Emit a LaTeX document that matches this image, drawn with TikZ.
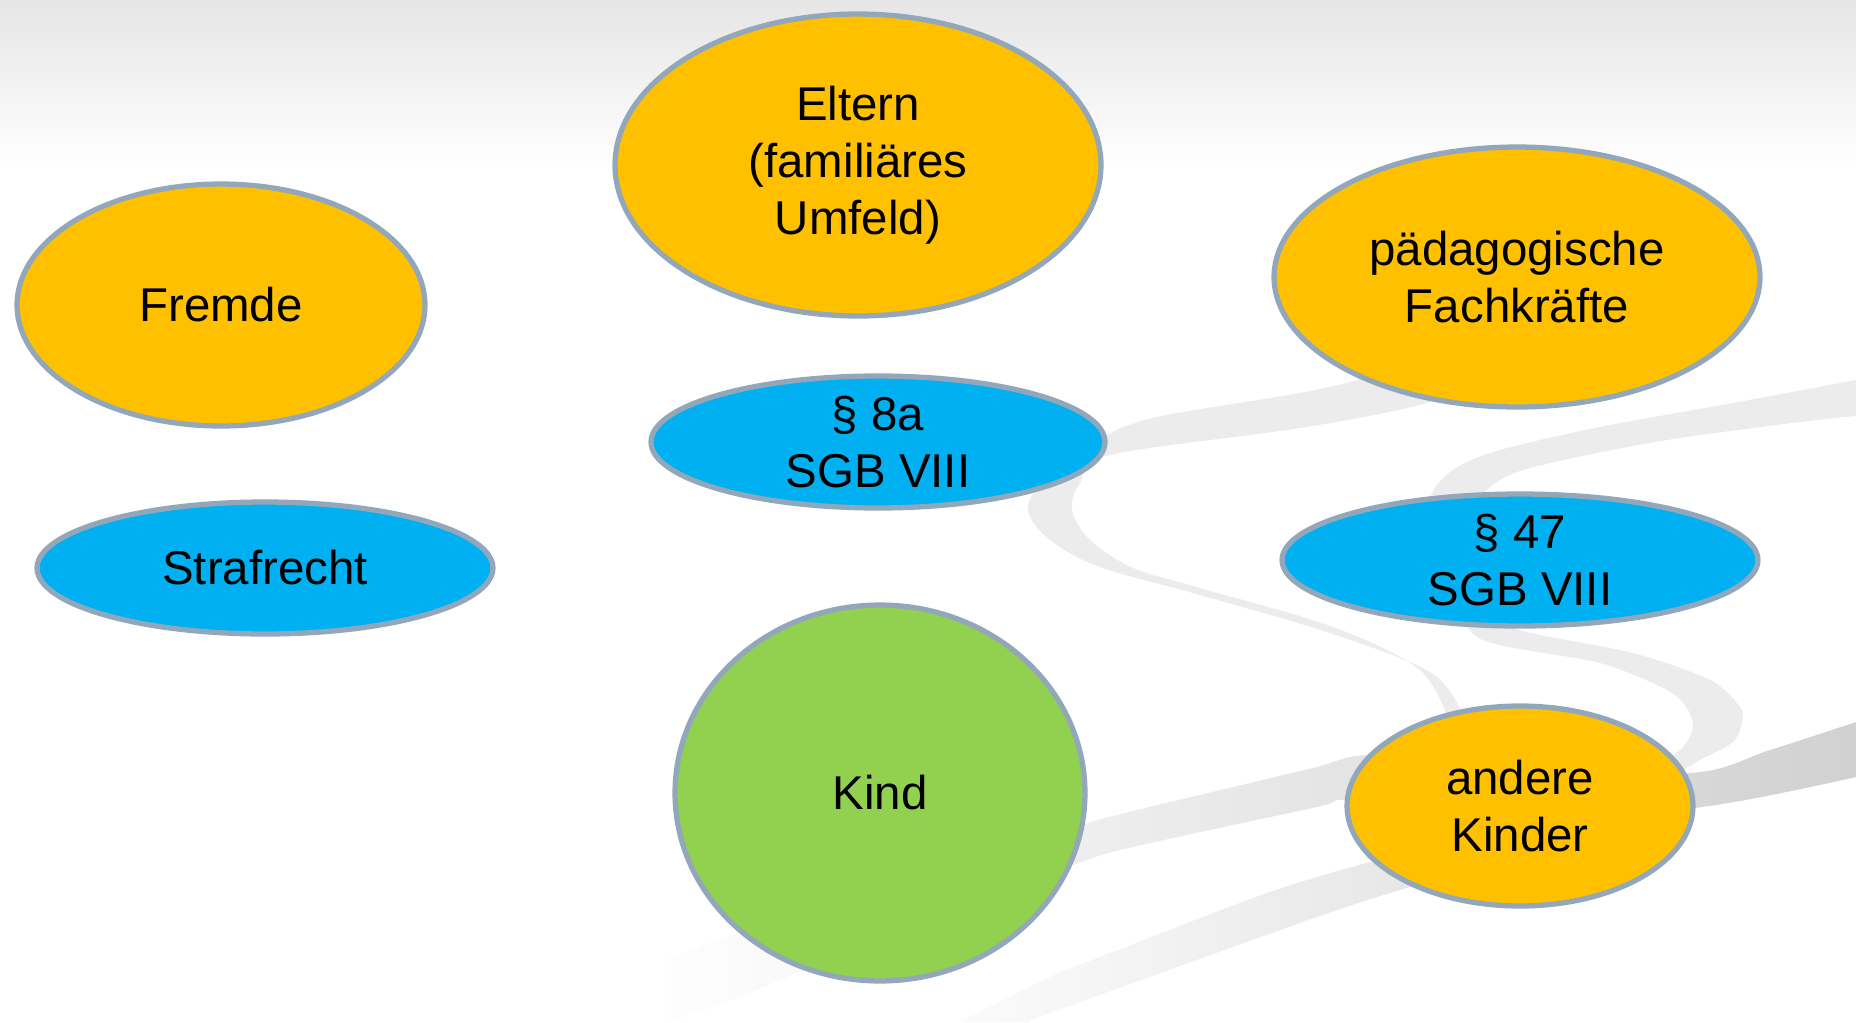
\documentclass[tikz,border=0pt]{standalone}
\usepackage{fontspec}
\setmainfont{Liberation Sans}
\usetikzlibrary{shapes.geometric}

\definecolor{ochre}{HTML}{FFC000}
\definecolor{skyblue}{HTML}{00B0F0}
\definecolor{leafgreen}{HTML}{92D050}
\definecolor{rim}{HTML}{92A8BA}

\begin{document}
\begin{tikzpicture} [x=0.02cm,y=-0.02cm,{actor/.style={ellipse,draw=rim,line width=3pt,fill=ochre,inner sep=-1cm,align=center,font=\fontsize{27}{32.6}\selectfont}},{law/.style={actor,fill=skyblue}},{child/.style={actor,fill=leafgreen}},{band/.style={fill=gray!15}}]
	\useasboundingbox (0,0) rectangle (1856,1022);
	%% page background
	\fill [white] (0,0) rectangle (1856,1022);
	\shade [top color=gray!20,bottom color=white] (0,0) rectangle (1856,167);

	%%swooshes
	%% upper band, S turn round 8a
	\fill [band] plot [smooth,tension=0.55] coordinates {(1520,318) (1350,382) (1157,417) (1095,442) (1045,478) (1028,510) (1050,540) (1100,567) (1200,595) (1333,634) (1433,674) (1466,722)}
		-- plot [smooth,tension=0.55] coordinates {(1450,724) (1420,670) (1333,627) (1200,588) (1133,568) (1090,540) (1072,510) (1080,483) (1110,455) (1300,428) (1423,404) (1520,370)} -- cycle;
	%% band behind 47
	\fill [band] plot [smooth,tension=0.5] coordinates {(1856,380) (1733,403) (1600,427) (1500,450) (1453,470) (1430,500) (1440,560) (1480,612) (1527,632) (1633,653) (1710,680) (1740,707) (1742,722) (1733,742) (1700,760) (1670,778)}
		-- plot [smooth,tension=0.5] coordinates {(1655,770) (1683,747) (1693,727) (1687,708) (1667,690) (1600,663) (1483,640) (1460,600) (1462,520) (1500,480) (1550,463) (1667,440) (1800,422) (1856,416)} -- cycle;
	%% band from kind to the right edge
	\shade [left color=gray!1,middle color=gray!16,right color=gray!36] plot [smooth,tension=0.5] coordinates {(667,958) (743,932) (900,880) (1087,823) (1250,783) (1317,767) (1370,755) (1500,765) (1690,773) (1770,750) (1856,722)}
		-- plot [smooth,tension=0.5] coordinates {(1856,777) (1693,808) (1500,812) (1350,800) (1317,807) (1133,847) (1073,865) (900,930) (743,995) (667,1022)} -- cycle;
	%% lower band
	\shade [left color=gray!3,right color=gray!20] plot [smooth,tension=0.5] coordinates {(960,1022) (983,1010) (1050,977) (1100,957) (1267,893) (1377,860) (1420,850)}
		-- plot [smooth,tension=0.5] coordinates {(1440,880) (1410,887) (1317,917) (1050,1013) (1030,1022)} -- cycle;

	%%actors
	\node [actor,minimum width=9.72cm,minimum height=6.04cm] (eltern) at (858,165) {Eltern\\(familiäres\\Umfeld)};
	\node [actor,minimum width=8.16cm,minimum height=4.84cm] (fremde) at (221,305) {Fremde};
	\node [actor,minimum width=9.72cm,minimum height=5.20cm] (fach) at (1517,277) {pädagogische\\Fachkräfte};
	\node [actor,minimum width=6.92cm,minimum height=4.00cm] (andere) at (1520,806) {andere\\Kinder};
	%%laws
	\node [law,minimum width=9.08cm,minimum height=2.64cm] (acht) at (878,442) {§ 8a\\SGB VIII};
	\node [law,minimum width=9.12cm,minimum height=2.64cm] (straf) at (265,568) {Strafrecht};
	\node [law,minimum width=9.52cm,minimum height=2.64cm] (siebzehn) at (1520,560) {§ 47\\SGB VIII};
	%%child
	\node [child,minimum width=8.20cm,minimum height=7.52cm] (kind) at (880,793) {Kind};
\end{tikzpicture}
\end{document}
